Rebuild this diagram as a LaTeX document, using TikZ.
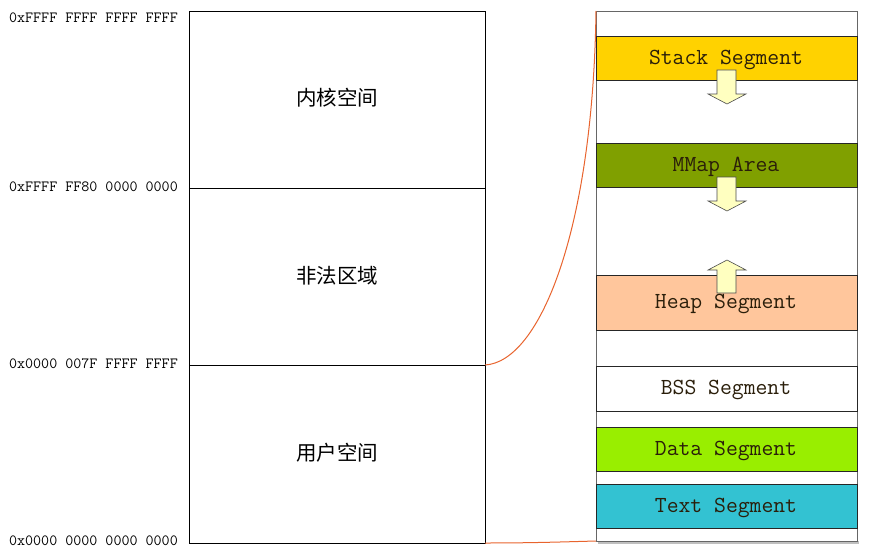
\documentclass[tikz,border=0pt]{standalone}
\usepackage{fontspec}
\newfontfamily\cjk{Noto Sans CJK SC}
\definecolor{stackc}{HTML}{FFD200}
\definecolor{mmapc}{HTML}{80A000}
\definecolor{heapc}{HTML}{FFC69C}
\definecolor{datac}{HTML}{99EE00}
\definecolor{textc}{HTML}{33C2D2}
\definecolor{arrowc}{HTML}{FFFFC0}
\definecolor{curvec}{HTML}{E8642E}
\definecolor{txtc}{HTML}{2A1E0A}
\tikzset{
  addr/.style={anchor=east, font=\ttfamily\fontsize{15.6}{18}\selectfont, inner sep=0pt},
  zone/.style={font=\cjk\fontsize{20.5}{22}\selectfont, inner sep=0pt},
  seg/.style={draw=black!85, line width=0.8pt},
  segtext/.style={font=\ttfamily\fontsize{23}{25}\selectfont, text=txtc, inner sep=0pt},
  growarrow/.style={fill=arrowc, draw=black!70, line width=0.6pt, line join=miter},
  link/.style={draw=curvec, line width=1pt}
}
\begin{document}
\begin{tikzpicture}[x=1pt,y=-1pt]
\useasboundingbox (0,0) rectangle (878,551);
% left box
\draw[line width=0.7pt] (189,11) rectangle (485,543);
\draw[line width=0.7pt] (189,188) -- (485,188);
\draw[line width=0.7pt] (189,365) -- (485,365);
\coordinate (ltop) at (485,365);
\coordinate (lbot) at (485,543);
\node[addr] (a1) at (178,18) {0xFFFF FFFF FFFF FFFF};
\node[addr] (a2) at (178,187) {0xFFFF FF80 0000 0000};
\node[addr] (a3) at (178,364) {0x0000 007F FFFF FFFF};
\node[addr] (a4) at (178,541) {0x0000 0000 0000 0000};
\node[zone] (k) at (337,98) {内核空间};
\node[zone] (i) at (337,276) {非法区域};
\node[zone] (u) at (337,453) {用户空间};
% right column
\coordinate (rtop) at (596,11);
\coordinate (rbot) at (596,541);
\fill[black!25] (598,541) rectangle (859,544);
\draw[black!60, line width=0.9pt, fill=white] (596,11) rectangle (857,541);
\draw[seg, fill=stackc] (596,36) rectangle (857,80);
\draw[seg, fill=mmapc] (596,143) rectangle (857,187);
\draw[seg, fill=heapc] (596,275) rectangle (857,330);
\draw[seg, fill=white] (596,366) rectangle (857,411);
\draw[seg, fill=datac] (596,427) rectangle (857,471);
\draw[seg, fill=textc] (596,484) rectangle (857,528);
\node[segtext] (s1) at (726,60) {Stack Segment};
\node[segtext] (s2) at (726,167) {MMap Area};
\node[segtext] (s4) at (726,390) {BSS Segment};
\node[segtext] (s5) at (726,451) {Data Segment};
\node[segtext] (s6) at (726,508) {Text Segment};
% arrows
\draw[growarrow] (717,70) -- (736,70) -- (736,94) -- (746,94) -- (727,104) -- (708,94) -- (717,94) -- cycle;
\draw[growarrow] (717,177) -- (736,177) -- (736,201) -- (746,201) -- (727,211) -- (708,201) -- (717,201) -- cycle;
\draw[growarrow] (717,293) -- (736,293) -- (736,270) -- (746,270) -- (727,260) -- (708,270) -- (717,270) -- cycle;
\node[segtext] (s3) at (726,304) {Heap Segment};
% links
\draw[link] (ltop) .. controls (540,362) and (593,230) .. (rtop);
\draw[link] (lbot) .. controls (530,543) and (560,542) .. (rbot);
\end{tikzpicture}
\end{document}
